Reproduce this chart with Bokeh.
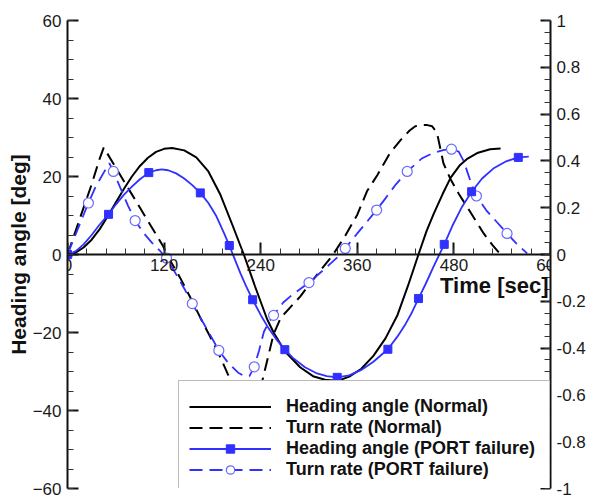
import math

from bokeh.embed import file_html
from bokeh.models import (ColumnDataSource, FixedTicker, Label, Legend,
                          LegendItem, LinearAxis, Range1d)
from bokeh.plotting import figure
from bokeh.resources import INLINE

# ---- Normal condition -------------------------------------------------------
normal_heading_t = [0, 10, 20, 30, 40, 50, 60, 70, 80, 90, 100, 110, 120, 130,
                    145, 160, 175, 190, 205, 219, 233, 248, 256, 270, 289, 305,
                    320, 330, 340, 350, 365, 380, 395, 410, 423, 436, 446, 455,
                    466, 476, 487, 497, 510, 525, 538]
normal_heading = [0, 0.5, 1.8, 3.8, 6.5, 9.8, 13.3, 16.8, 20.0, 22.7, 24.8, 26.3,
                  27.1, 27.3, 26.7, 24.9, 21.3, 15.3, 7.5, 0, -8.2, -16.6, -20.0,
                  -24.8, -28.9, -31.2, -32.1, -32.3, -32.1, -31.3, -29.3, -26.0,
                  -21.5, -15.5, -8.0, 0, 6.0, 10.5, 15.5, 19.7, 22.8, 24.6, 26.1,
                  27.0, 27.2]

normal_rate_t = [0, 10, 20, 30, 40, 45, 60, 80, 100, 119, 124, 140, 155, 165,
                 180, 190, 199, 205, 215, 225, 235, 242, 249, 256, 265, 277, 289,
                 300, 315, 330, 345, 360, 372, 385, 400, 414, 425, 432, 438, 447,
                 453, 459, 467, 476, 486, 497, 507, 517, 528, 538]
normal_rate = [0, 0.1, 0.2, 0.3, 0.41, 0.457, 0.371, 0.257, 0.143, 0.034, -0.005,
               -0.1, -0.2, -0.27, -0.37, -0.44, -0.51, -0.55, -0.6, -0.62, -0.6,
               -0.54, -0.44, -0.34, -0.27, -0.225, -0.18, -0.13, -0.065, 0.0,
               0.08, 0.17, 0.27, 0.34, 0.43, 0.49, 0.53, 0.548, 0.553, 0.553,
               0.548, 0.52, 0.39, 0.32, 0.26, 0.2, 0.145, 0.09, 0.04, 0.0]

# ---- PORT failure -----------------------------------------------------------
port_heading_t = [0, 10, 20, 30, 40, 51, 60, 70, 80, 90, 101, 110, 117, 125, 135,
                  145, 155, 165, 175, 185, 195, 201, 208, 215, 222, 230, 240, 250,
                  260, 270, 280, 295, 310, 322, 335, 350, 365, 380, 398, 410, 420,
                  428, 436, 445, 455, 468, 478, 490, 502, 515, 530, 545, 560, 573]
port_heading = [0, 0.8, 2.6, 5.0, 7.7, 10.3, 12.8, 15.3, 17.4, 19.3, 21.0, 21.6,
                21.8, 21.6, 20.8, 19.5, 17.8, 15.8, 13.2, 9.8, 5.2, 2.3, -1.3,
                -4.9, -8.2, -11.6, -15.5, -19.0, -21.9, -24.4, -26.5, -28.9,
                -30.5, -31.2, -31.5, -31.0, -29.6, -27.5, -24.3, -21.0, -17.8,
                -14.8, -11.3, -7.5, -3.0, 2.6, 7.3, 12.2, 16.1, 19.5, 22.2, 23.9,
                24.9, 25.1]
port_heading_marks = [0, 51, 101, 165, 201, 230, 270, 335, 398, 436, 468, 502, 560]

port_rate_t = [0, 10, 20, 26, 35, 45, 52, 57, 65, 75, 84, 95, 105, 115, 123, 135,
               145, 155, 165, 175, 188, 200, 212, 220, 226, 232, 238, 244, 250,
               256, 268, 280, 290, 300, 315, 328, 339, 345, 360, 372, 384, 395,
               408, 422, 440, 455, 468, 477, 486, 492, 497, 502, 508, 520, 533,
               546, 558, 571]
port_rate = [0, 0.085, 0.17, 0.22, 0.29, 0.35, 0.39, 0.355, 0.29, 0.21, 0.145,
             0.09, 0.05, 0.015, -0.015, -0.085, -0.145, -0.21, -0.27, -0.33,
             -0.41, -0.465, -0.505, -0.52, -0.52, -0.48, -0.41, -0.33, -0.29,
             -0.26, -0.205, -0.17, -0.145, -0.12, -0.075, -0.035, 0.0, 0.026,
             0.09, 0.14, 0.19, 0.24, 0.3, 0.355, 0.41, 0.435, 0.447, 0.45, 0.44,
             0.4, 0.35, 0.3, 0.25, 0.19, 0.14, 0.09, 0.045, 0.005]
port_rate_marks = [0, 26, 57, 84, 123, 155, 188, 232, 256, 300, 345, 384, 422,
                   477, 508, 546]

# ---- Axes ticks -------------------------------------------------------------
time_ticks = [0, 120, 240, 360, 480, 600]
time_tick_labels = ["0", "120", "240", "360", "480", "600"]
heading_ticks = [-60, -40, -20, 0, 20, 40, 60]
rate_ticks = [-1, -0.8, -0.6, -0.4, -0.2, 0, 0.2, 0.4, 0.6, 0.8, 1]
rate_tick_labels = ["-1", "-0.8", "-0.6", "-0.4", "-0.2", "0", "0.2", "0.4",
                    "0.6", "0.8", "1"]

BLUE = "#3030ff"
FONT = "Liberation Sans"
INK = "#111111"

p = figure(width=613, height=495, x_range=Range1d(0, 600),
           y_range=Range1d(-60, 60), x_axis_type=None, y_axis_type=None,
           output_backend="svg", toolbar_location=None,
           min_border_left=67, min_border_right=63, min_border_top=20,
           min_border_bottom=7)
p.extra_y_ranges = {"rate": Range1d(-1, 1)}
p.outline_line_color = None
p.xgrid.visible = False
p.ygrid.visible = False
p.background_fill_color = "white"
p.border_fill_color = "white"


def style_axis(ax, tick_in, minor_in):
    ax.axis_line_width = 2
    ax.axis_line_color = INK
    ax.major_tick_in = tick_in
    ax.major_tick_out = 0
    ax.minor_tick_in = minor_in
    ax.minor_tick_out = 0
    ax.major_tick_line_width = 2
    ax.major_tick_line_color = INK
    ax.minor_tick_line_width = 1
    ax.minor_tick_line_color = "#333333"
    ax.major_label_text_font = FONT
    ax.major_label_text_font_size = "17px"
    ax.major_label_text_color = "#1a1a1a"


left = LinearAxis(ticker=FixedTicker(ticks=heading_ticks,
                                     minor_ticks=list(range(-60, 61, 5))))
style_axis(left, 11, 6)
left.major_label_standoff = 6
left.axis_label = "Heading angle [deg]"
left.axis_label_text_font = FONT
left.axis_label_text_font_style = "bold"
left.axis_label_text_font_size = "21px"
left.axis_label_text_color = INK
left.axis_label_standoff = 0
p.add_layout(left, "left")

right = LinearAxis(y_range_name="rate",
                   ticker=FixedTicker(ticks=rate_ticks,
                                      minor_ticks=[i / 20 for i in range(-20, 21)]))
style_axis(right, 10, 6)
right.major_label_standoff = 6
right.major_label_overrides = dict(zip(rate_ticks, rate_tick_labels))
p.add_layout(right, "right")

# time axis drawn through zero heading; its labels are placed as annotations
bottom = LinearAxis(fixed_location=0,
                    ticker=FixedTicker(ticks=time_ticks,
                                       minor_ticks=list(range(0, 601, 24))))
style_axis(bottom, 12, 6)
bottom.major_label_text_font_size = "0px"
p.add_layout(bottom, "below")
for t, txt in zip(time_ticks, time_tick_labels):
    p.add_layout(Label(x=t, y=0, y_offset=-4, text=txt, text_align="center",
                       text_baseline="top", text_font=FONT,
                       text_font_size="17px", text_color="#1a1a1a"))

# ---- Curves -----------------------------------------------------------------
r_nh = p.line(normal_heading_t, normal_heading, line_color="black", line_width=2)
r_nr = p.line(normal_rate_t, normal_rate, y_range_name="rate", line_color="black",
              line_width=2, line_dash="13 7")
r_ph = p.line(port_heading_t, port_heading, line_color=BLUE, line_width=1.8)
r_pr = p.line(port_rate_t, port_rate, y_range_name="rate", line_color=BLUE,
              line_width=1.8, line_dash="13 7")

ph_idx = [port_heading_t.index(t) for t in port_heading_marks]
pr_idx = [port_rate_t.index(t) for t in port_rate_marks]
ph_src = ColumnDataSource(dict(t=[port_heading_t[i] for i in ph_idx],
                               v=[port_heading[i] for i in ph_idx]))
pr_src = ColumnDataSource(dict(t=[port_rate_t[i] for i in pr_idx],
                               v=[port_rate[i] for i in pr_idx]))
m_pr = p.scatter("t", "v", source=pr_src, y_range_name="rate", marker="circle",
                 size=10, line_color="#6a6aff", line_width=1.2, fill_color="white")
m_ph = p.scatter("t", "v", source=ph_src, marker="square", size=8,
                 line_color=BLUE, fill_color=BLUE)

# ---- Axis titles --------------------------------------------------------------
p.add_layout(Label(x=600, y=0, x_offset=-2, y_offset=-31, text="Time [sec]",
                   text_align="right", text_baseline="middle", text_font=FONT,
                   text_font_style="bold", text_font_size="22px",
                   text_color=INK))
p.add_layout(Label(x=600, y=0, x_offset=44, text="Turn rate [deg/s]",
                   angle=math.pi / 2, text_align="center", text_baseline="middle",
                   text_font=FONT, text_font_style="bold", text_font_size="20px",
                   text_color=INK))

legend = Legend(items=[
    LegendItem(label="Heading angle (Normal)", renderers=[r_nh]),
    LegendItem(label="Turn rate (Normal)", renderers=[r_nr]),
    LegendItem(label="Heading angle (PORT failure)", renderers=[r_ph, m_ph]),
    LegendItem(label="Turn rate (PORT failure)", renderers=[r_pr, m_pr]),
], location=(111, -3), orientation="vertical", glyph_width=82, glyph_height=21,
    label_height=21, spacing=0, padding=10, margin=0, label_standoff=15,
    label_width=253, label_text_font=FONT, label_text_font_style="bold",
    label_text_font_size="18px", label_text_color=INK,
    title=" ", title_text_font_size="4px", title_standoff=0,
    border_line_color="#777777", border_line_width=1,
    background_fill_color="white", background_fill_alpha=1.0)
p.add_layout(legend)

open("out.html", "w").write(file_html(p, INLINE))
